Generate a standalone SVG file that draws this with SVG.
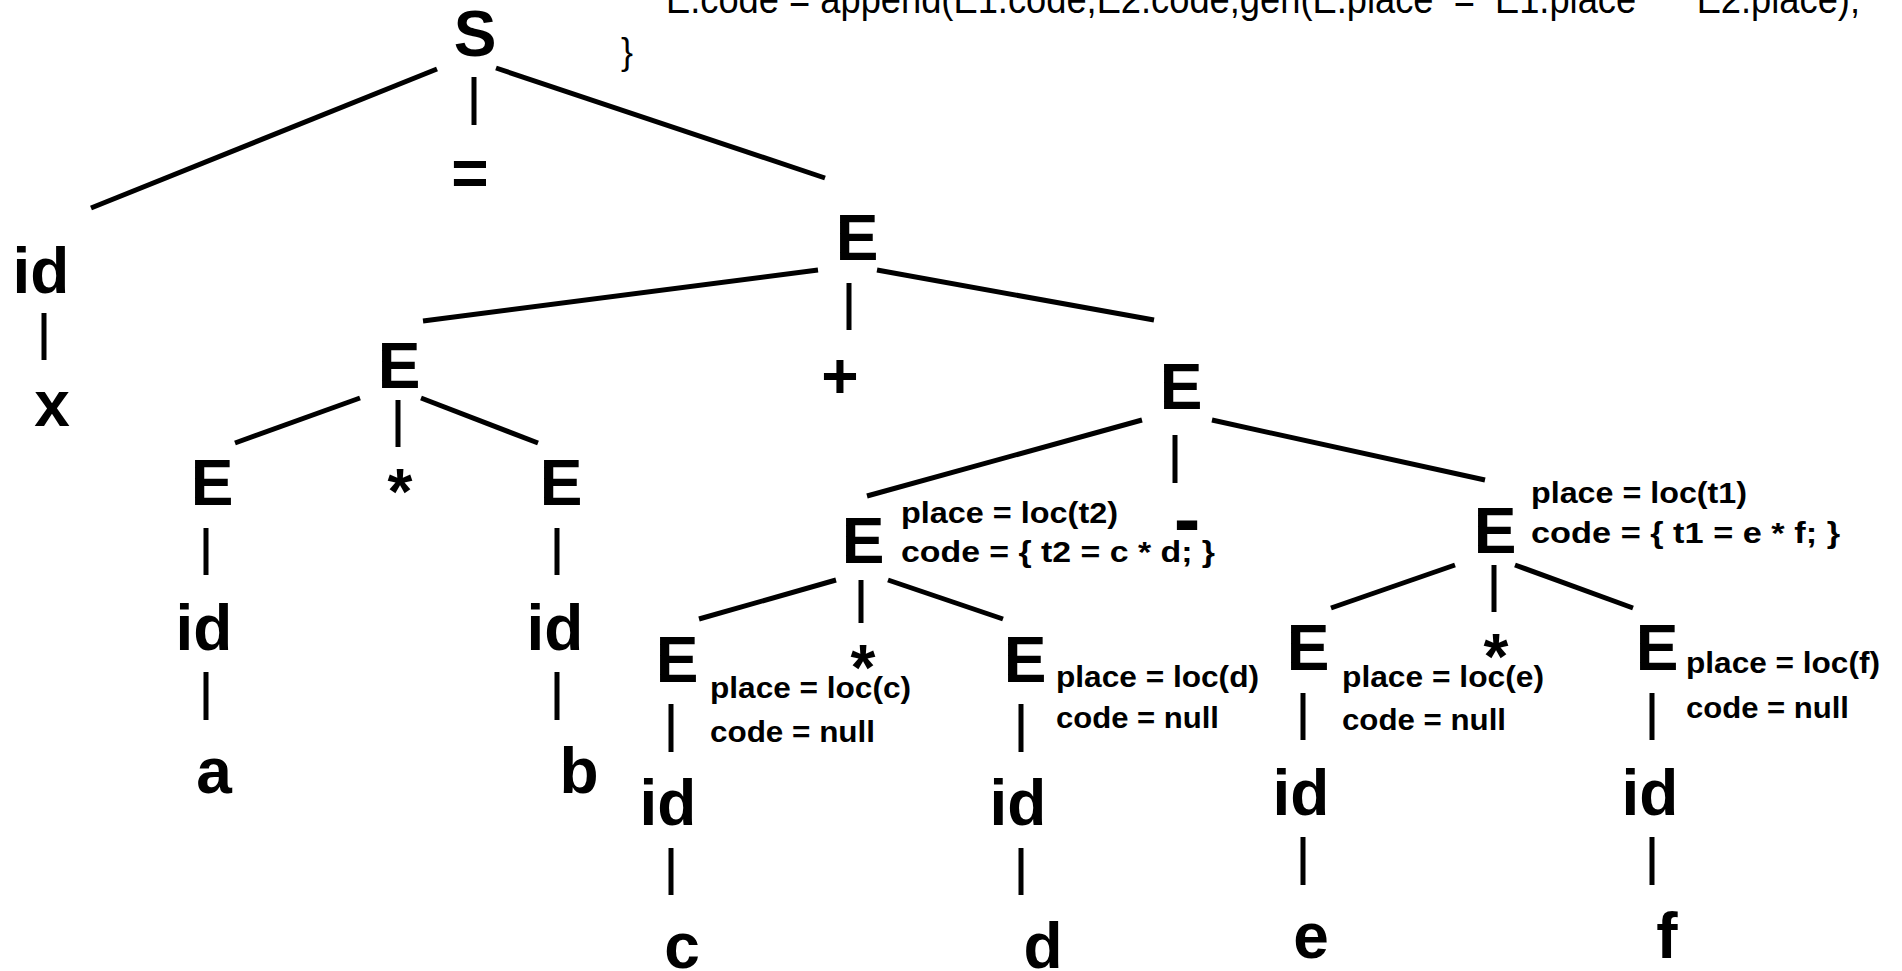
<svg xmlns="http://www.w3.org/2000/svg" width="1902" height="971" viewBox="0 0 1902 971">
<style>
.n{font-family:"Liberation Sans",Arial,sans-serif;font-weight:bold;font-size:64px;fill:#000;text-anchor:middle}
.a{font-family:"Liberation Sans",Arial,sans-serif;font-weight:bold;font-size:30px;fill:#000}
.t{font-family:"Liberation Sans",Arial,sans-serif;font-size:40px;fill:#000;white-space:pre}
.c line{stroke:#000;stroke-width:5;stroke-linecap:butt}
</style>
<rect width="1902" height="971" fill="#fff"/>
<g id="code">
<text class="t" x="666" y="13" textLength="1194" lengthAdjust="spacingAndGlyphs" xml:space="preserve">E.code = append(E1.code,E2.code,gen(E.place  =  E1.place      E2.place);</text>
<text class="t" x="621" y="64" style="font-size:36px">}</text>
</g>
<g class="c" id="connectors">
<line x1="437" y1="69" x2="91" y2="208"/>
<line x1="474" y1="77" x2="474" y2="125"/>
<line x1="496" y1="68" x2="825" y2="178"/>
<line x1="44" y1="313" x2="44" y2="360"/>
<line x1="818" y1="270" x2="423" y2="321"/>
<line x1="849" y1="283" x2="849" y2="330"/>
<line x1="877" y1="270" x2="1154" y2="320"/>
<line x1="360" y1="398" x2="235" y2="443"/>
<line x1="398" y1="400" x2="398" y2="447"/>
<line x1="421" y1="398" x2="538" y2="443"/>
<line x1="206" y1="528" x2="206" y2="575"/>
<line x1="206" y1="672" x2="206" y2="720"/>
<line x1="557" y1="528" x2="557" y2="575"/>
<line x1="557" y1="672" x2="557" y2="720"/>
<line x1="1142" y1="420" x2="867" y2="496"/>
<line x1="1175" y1="435" x2="1175" y2="483"/>
<line x1="1212" y1="420" x2="1485" y2="480"/>
<line x1="836" y1="580" x2="699" y2="619"/>
<line x1="861" y1="580" x2="861" y2="623"/>
<line x1="888" y1="580" x2="1003" y2="619"/>
<line x1="1455" y1="565" x2="1331" y2="608"/>
<line x1="1494" y1="565" x2="1494" y2="612"/>
<line x1="1515" y1="565" x2="1633" y2="608"/>
<line x1="671" y1="704" x2="671" y2="752"/>
<line x1="671" y1="848" x2="671" y2="895"/>
<line x1="1021" y1="704" x2="1021" y2="752"/>
<line x1="1021" y1="848" x2="1021" y2="895"/>
<line x1="1303" y1="693" x2="1303" y2="740"/>
<line x1="1303" y1="837" x2="1303" y2="885"/>
<line x1="1652" y1="693" x2="1652" y2="740"/>
<line x1="1652" y1="837" x2="1652" y2="885"/>
</g>
<g id="n-S"><text class="n" x="475" y="56">S</text></g>
<g id="n-eq"><text class="n" x="470" y="195">=</text></g>
<g id="n-id-x"><text class="n" x="41" y="293">id</text></g>
<g id="n-x"><text class="n" x="52" y="426">x</text></g>
<g id="n-E0"><text class="n" x="857" y="260">E</text></g>
<g id="n-E1"><text class="n" x="399" y="388">E</text></g>
<g id="n-plus"><text class="n" x="840" y="398">+</text></g>
<g id="n-E2"><text class="n" x="1181" y="409">E</text></g>
<g id="n-Ea"><text class="n" x="212" y="505">E</text></g>
<g id="n-star1"><text class="n" x="400" y="514">*</text></g>
<g id="n-Eb"><text class="n" x="561" y="505">E</text></g>
<g id="n-id-a"><text class="n" x="204" y="650">id</text></g>
<g id="n-id-b"><text class="n" x="555" y="650">id</text></g>
<g id="n-a"><text class="n" x="214" y="793">a</text></g>
<g id="n-b"><text class="n" x="579" y="793">b</text></g>
<g id="n-Et2"><text class="n" x="863" y="563">E</text>
<text class="a" x="901" y="523" textLength="217" lengthAdjust="spacingAndGlyphs">place = loc(t2)</text>
<text class="a" x="901" y="562" textLength="314" lengthAdjust="spacingAndGlyphs">code = { t2 = c * d; }</text></g>
<g id="n-minus"><text class="n" x="1187" y="546" style="font-size:80px">-</text></g>
<g id="n-Et1"><text class="n" x="1495" y="553">E</text>
<text class="a" x="1531" y="503" textLength="216" lengthAdjust="spacingAndGlyphs">place = loc(t1)</text>
<text class="a" x="1531" y="543" textLength="309" lengthAdjust="spacingAndGlyphs">code = { t1 = e * f; }</text></g>
<g id="n-Ec"><text class="n" x="677" y="682">E</text>
<text class="a" x="710" y="698" textLength="201" lengthAdjust="spacingAndGlyphs">place = loc(c)</text>
<text class="a" x="710" y="742" textLength="165" lengthAdjust="spacingAndGlyphs">code = null</text></g>
<g id="n-star2"><text class="n" x="863" y="690">*</text></g>
<g id="n-Ed"><text class="n" x="1025" y="682">E</text>
<text class="a" x="1056" y="687" textLength="203" lengthAdjust="spacingAndGlyphs">place = loc(d)</text>
<text class="a" x="1056" y="728" textLength="163" lengthAdjust="spacingAndGlyphs">code = null</text></g>
<g id="n-Ee"><text class="n" x="1308" y="670">E</text>
<text class="a" x="1342" y="687" textLength="202" lengthAdjust="spacingAndGlyphs">place = loc(e)</text>
<text class="a" x="1342" y="730" textLength="164" lengthAdjust="spacingAndGlyphs">code = null</text></g>
<g id="n-star3"><text class="n" x="1496" y="679">*</text></g>
<g id="n-Ef"><text class="n" x="1657" y="670">E</text>
<text class="a" x="1686" y="673" textLength="194" lengthAdjust="spacingAndGlyphs">place = loc(f)</text>
<text class="a" x="1686" y="718" textLength="163" lengthAdjust="spacingAndGlyphs">code = null</text></g>
<g id="n-id-c"><text class="n" x="668" y="825">id</text></g>
<g id="n-id-d"><text class="n" x="1018" y="825">id</text></g>
<g id="n-id-e"><text class="n" x="1301" y="815">id</text></g>
<g id="n-id-f"><text class="n" x="1650" y="815">id</text></g>
<g id="n-c"><text class="n" x="682" y="968">c</text></g>
<g id="n-d"><text class="n" x="1043" y="968">d</text></g>
<g id="n-e"><text class="n" x="1311" y="958">e</text></g>
<g id="n-f"><text class="n" x="1667" y="958">f</text></g>
</svg>
